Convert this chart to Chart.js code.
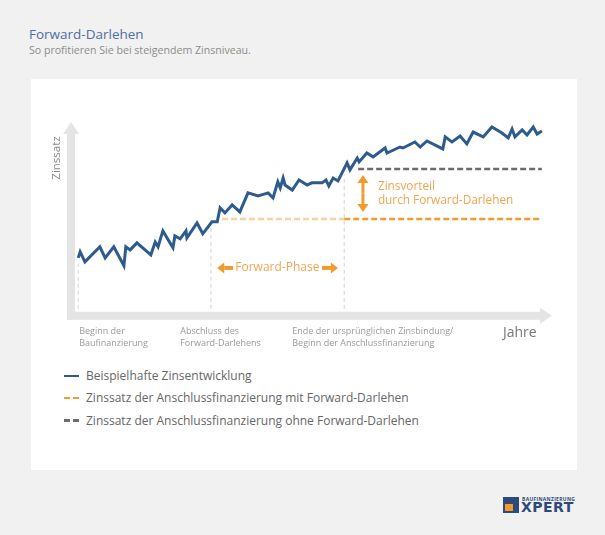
<!DOCTYPE html>
<html lang="de">
<head>
<meta charset="utf-8">
<title>Forward-Darlehen</title>
<script src="https://cdn.jsdelivr.net/npm/chart.js@4"></script>
<style>
  body { margin: 0; width: 605px; height: 535px; background: #f1f1f1; font-family: 'Open Sans', sans-serif; position: relative; overflow: hidden; }
  .titel { position: absolute; left: 29px; top: 25px; font-size: 13.5px; color: #4d6fa3; }
  .untertitel { position: absolute; left: 29px; top: 43px; font-size: 10.6px; color: #8c8c8c; }
  .panel { position: absolute; left: 31px; top: 79px; width: 546px; height: 391px; background: #fff; }
  canvas { position: absolute; left: 0; top: 0; }
  #legende { position: absolute; left: 64px; top: 365px; font-size: 12px; color: #666; }
  #legende div { height: 22.3px; line-height: 22.3px; white-space: nowrap; }
  #legende span.probe { display: inline-block; width: 15px; height: 2.5px; vertical-align: middle; margin-right: 7px; position: relative; top: -1px; }
  .logo { position: absolute; left: 503px; top: 496px; }
  .logo .icon { position: absolute; left: 0; top: 1px; width: 16px; height: 16px; background: #2c4a7a; }
  .logo .icon i { position: absolute; left: 2px; bottom: 2px; width: 8px; height: 7px; background: #f39a2e; }
  .logo .klein { position: absolute; left: 19px; top: 0; font-size: 5px; font-weight: bold; color: #2c4a7a; letter-spacing: 0.3px; white-space: nowrap; }
  .logo .gross { position: absolute; left: 18px; top: 3px; font-size: 14px; font-weight: bold; color: #2c4a7a; letter-spacing: 0.5px; font-family: 'DejaVu Sans', sans-serif; }
</style>
</head>
<body>
<div class="titel">Forward-Darlehen</div>
<div class="untertitel">So profitieren Sie bei steigendem Zinsniveau.</div>
<div class="panel"></div>
<canvas id="chart" width="605" height="360"></canvas>
<div id="legende"></div>
<div class="logo"><div class="icon"><i></i></div><div class="klein">BAUFINANZIERUNG</div><div class="gross">XPERT</div></div>
<script>
// Beispielhafte Zinsentwicklung (x: Zeit, y: Zinsniveau, relative Einheiten)
const zinsJahre = [1.5, 1.9, 2.9, 6.0, 7.1, 8.9, 11.0, 11.4, 12.3, 13.7, 16.6, 17.5, 18.1, 19.1, 21.2, 21.6, 22.7, 23.9, 24.1, 26.2,
  27.4, 29.3, 30.4, 31.0, 32.0, 33.5, 35.1, 36.8, 38.9, 41.0, 42.0, 43.0, 43.5, 44.1, 44.5, 46.0, 47.4, 49.1, 50.1, 52.2,
  53.0, 53.6, 54.5, 55.5, 57.4, 58.0, 59.5, 59.9, 61.5, 62.8, 65.3, 65.7, 68.4, 69.0, 71.5, 72.6, 74.0, 77.3, 77.8, 79.2,
  80.9, 82.3, 83.6, 85.7, 87.5, 89.6, 90.9, 91.7, 92.3, 93.8, 94.8, 96.1, 96.9, 97.9];
const zinsWerte = [29.9, 33.0, 27.8, 35.6, 29.9, 35.6, 25.8, 35.6, 34.0, 37.6, 31.4, 38.1, 35.6, 43.8, 35.1, 41.2, 39.7, 43.8, 40.2, 47.9,
  42.3, 48.5, 48.5, 55.7, 53.1, 57.2, 53.6, 63.4, 61.9, 63.4, 60.8, 69.1, 66.0, 71.1, 67.5, 64.9, 70.1, 67.5, 68.6, 68.6,
  70.1, 67.0, 71.1, 69.6, 78.9, 75.3, 81.4, 79.4, 84.0, 82.0, 86.6, 84.0, 87.1, 86.6, 89.7, 87.1, 90.2, 86.1, 92.3, 89.7,
  92.8, 88.7, 94.8, 92.3, 97.4, 94.3, 91.8, 96.4, 92.3, 95.9, 93.3, 97.4, 93.8, 95.4];

// Anschlusszins mit / ohne Forward-Darlehen
const mitForwardX = [31.4, 56.8, 97.9];   // Forward-Phase (hell), danach Anschluss
const mitForwardZins = 50.0;
const ohneForwardX = [59.7, 97.9];
const ohneForwardZins = 75.8;

// senkrechte Hilfslinien: Beginn, Abschluss Forward, Ende Zinsbindung
const markenX = [1.5, 29.1, 56.8];
const markenOben = [27, 46, 73];

// Beschriftung der x-Achse
const tickPositionen = [1.7, 22.7, 46.0, 89.8];
const tickTexte = [
  ['Beginn der', 'Baufinanzierung'],
  ['Abschluss des', 'Forward-Darlehens'],
  ['Ende der ursprünglichen Zinsbindung/', 'Beginn der Anschlussfinanzierung'],
  ['Jahre']
];

const BLAU = '#2d5b8e';
const ORANGE = '#f39a2e';
const GRAU = '#6b6b6b';

function pfeil(ctx, x1, y1, x2, y2, kopf, halb, breite) {
  const w = Math.atan2(y2 - y1, x2 - x1);
  const bx = x2 - Math.cos(w) * kopf, by = y2 - Math.sin(w) * kopf;
  ctx.lineWidth = breite;
  ctx.beginPath();
  ctx.moveTo(x1, y1);
  ctx.lineTo(bx, by);
  ctx.stroke();
  ctx.beginPath();
  ctx.moveTo(x2, y2);
  ctx.lineTo(bx + Math.sin(w) * halb, by - Math.cos(w) * halb);
  ctx.lineTo(bx - Math.sin(w) * halb, by + Math.cos(w) * halb);
  ctx.closePath();
  ctx.fill();
}

const achsenPlugin = {
  id: 'achsen',
  afterDatasetsDraw(chart) {
    const {ctx, chartArea: a, scales: {x, y}} = chart;
    ctx.save();
    ctx.fillStyle = '#e4e4e4';
    ctx.fillRect(a.left - 4, a.top + 11, 8, a.bottom - a.top - 7);
    ctx.beginPath();
    ctx.moveTo(a.left - 8, a.top + 12);
    ctx.lineTo(a.left + 8, a.top + 12);
    ctx.lineTo(a.left, a.top);
    ctx.fill();
    ctx.fillRect(a.left - 4, a.bottom - 4, a.right - a.left - 7, 8);
    ctx.beginPath();
    ctx.moveTo(a.right - 12, a.bottom - 8);
    ctx.lineTo(a.right - 12, a.bottom + 8);
    ctx.lineTo(a.right, a.bottom);
    ctx.fill();

    // y-Achsentitel
    ctx.fillStyle = '#8a8a8a';
    ctx.font = '11.5px "Open Sans"';
    ctx.translate(a.left - 14, a.top + 36);
    ctx.rotate(-Math.PI / 2);
    ctx.textAlign = 'center';
    ctx.textBaseline = 'middle';
    ctx.fillText('Zinssatz', 0, 0);
    ctx.restore();

    // Forward-Phase
    ctx.save();
    ctx.strokeStyle = ORANGE;
    ctx.fillStyle = ORANGE;
    const fy = y.getPixelForValue(24.7);
    pfeil(ctx, x.getPixelForValue(33.7), fy, x.getPixelForValue(30.4), fy, 7, 5.5, 4);
    pfeil(ctx, x.getPixelForValue(52.2), fy, x.getPixelForValue(55.5), fy, 7, 5.5, 4);
    ctx.fillStyle = '#f2a54f';
    ctx.font = '12px "Open Sans"';
    ctx.textAlign = 'center';
    ctx.textBaseline = 'middle';
    ctx.fillText('Forward-Phase', x.getPixelForValue(42.9), fy);

    // Zinsvorteil
    ctx.fillStyle = ORANGE;
    const vx = x.getPixelForValue(60.7);
    const oben = y.getPixelForValue(72.7), unten = y.getPixelForValue(53.6);
    const mitte = (oben + unten) / 2;
    pfeil(ctx, vx, mitte, vx, oben, 8, 5.5, 3);
    pfeil(ctx, vx, mitte, vx, unten, 8, 5.5, 3);
    ctx.fillStyle = '#f2a54f';
    ctx.font = '11.8px "Open Sans"';
    ctx.textAlign = 'left';
    ctx.fillText('Zinsvorteil', x.getPixelForValue(63.8), y.getPixelForValue(66.5));
    ctx.fillText('durch Forward-Darlehen', x.getPixelForValue(63.8), y.getPixelForValue(59.3));
    ctx.restore();
  }
};

const hilfslinien = markenX.map((mx, i) => ({
  data: [{x: mx, y: 0}, {x: mx, y: markenOben[i]}],
  borderColor: '#d2d2d2',
  borderWidth: 1,
  borderDash: [4, 3],
  pointRadius: 0
}));

const chart = new Chart(document.getElementById('chart'), {
  type: 'line',
  data: {
    datasets: [
      {
        label: 'Beispielhafte Zinsentwicklung',
        data: zinsJahre.map((j, i) => ({x: j, y: zinsWerte[i]})),
        borderColor: BLAU,
        borderWidth: 3,
        pointRadius: 0,
        tension: 0
      },
      {
        label: 'Zinssatz der Anschlussfinanzierung mit Forward-Darlehen',
        data: [{x: mitForwardX[1], y: mitForwardZins}, {x: mitForwardX[2], y: mitForwardZins}],
        borderColor: ORANGE,
        borderWidth: 2.5,
        borderDash: [6, 3],
        pointRadius: 0
      },
      {
        data: [{x: mitForwardX[0], y: mitForwardZins}, {x: mitForwardX[1], y: mitForwardZins}],
        borderColor: 'rgba(243,154,46,0.45)',
        borderWidth: 2.5,
        borderDash: [6, 3],
        pointRadius: 0
      },
      {
        label: 'Zinssatz der Anschlussfinanzierung ohne Forward-Darlehen',
        data: ohneForwardX.map(v => ({x: v, y: ohneForwardZins})),
        borderColor: GRAU,
        borderWidth: 2.5,
        borderDash: [6, 3],
        pointRadius: 0
      },
      ...hilfslinien
    ]
  },
  options: {
    responsive: false,
    animation: false,
    devicePixelRatio: 1,
    layout: { padding: { left: 71, right: 53, top: 122, bottom: 1 } },
    plugins: { legend: { display: false }, tooltip: { enabled: false } },
    scales: {
      x: {
        type: 'linear',
        min: 0,
        max: 100,
        grid: { display: false, drawTicks: false },
        border: { display: false },
        afterBuildTicks: axis => { axis.ticks = tickPositionen.map(v => ({value: v})); },
        ticks: {
          autoSkip: false,
          maxRotation: 0,
          minRotation: 0,
          align: 'start',
          padding: 9,
          font: ctx => ctx.index === 3
            ? {family: 'Open Sans', size: 14, lineHeight: 1.2}
            : {family: 'Open Sans', size: 9, lineHeight: 1.4},
          color: ctx => ctx.index === 3 ? '#777' : '#9a9a9a',
          callback: (v, i) => tickTexte[i]
        }
      },
      y: { type: 'linear', min: 0, max: 100, display: false }
    }
  },
  plugins: [achsenPlugin]
});

// Legende aus den Datensätzen aufbauen
const legende = document.getElementById('legende');
chart.data.datasets.filter(d => d.label).forEach(d => {
  const zeile = document.createElement('div');
  const probe = document.createElement('span');
  probe.className = 'probe';
  probe.style.background = d.borderDash
    ? `repeating-linear-gradient(to right, ${d.borderColor} 0 6px, transparent 6px 9px)`
    : d.borderColor;
  zeile.appendChild(probe);
  zeile.appendChild(document.createTextNode(d.label));
  legende.appendChild(zeile);
});
</script>
</body>
</html>
